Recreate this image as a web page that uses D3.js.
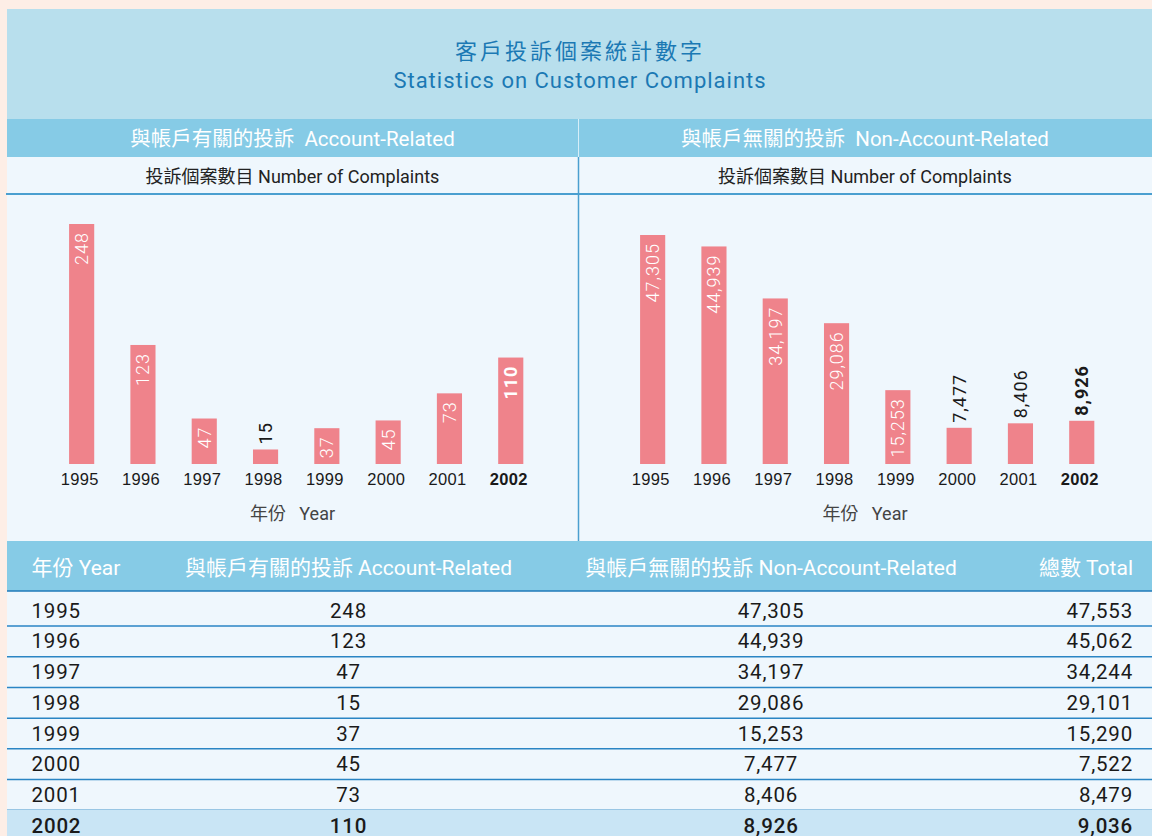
<!DOCTYPE html>
<html>
<head>
<meta charset="utf-8">
<script src="https://cdn.jsdelivr.net/npm/d3@7"></script>
<style>
    body { margin: 0; background: #fdeee6; }
    svg { display: block; font-family: Roboto, "Noto Sans CJK TC", sans-serif; }
</style>
</head>
<body>
<svg class="chart"></svg>
<script>
const years = ["1995", "1996", "1997", "1998", "1999", "2000", "2001", "2002"];
const accountRelated = [248, 123, 47, 15, 37, 45, 73, 110];
const nonAccountRelated = [47305, 44939, 34197, 29086, 15253, 7477, 8406, 8926];
const totals = [47553, 45062, 34244, 29101, 15290, 7522, 8479, 9036];

const titleZh = "客戶投訴個案統計數字";
const titleEn = "Statistics on Customer Complaints";
const panelTitles = ["與帳戶有關的投訴\u00a0\u00a0Account-Related", "與帳戶無關的投訴\u00a0\u00a0Non-Account-Related"];
const panelSubtitle = "投訴個案數目 Number of Complaints";
const axisTitle = "年份\u00a0\u00a0\u00a0Year";
const tableHeaders = ["年份 Year", "與帳戶有關的投訴 Account-Related", "與帳戶無關的投訴 Non-Account-Related", "總數 Total"];

class ComplaintsChart {
    constructor(){
        this.width = 1152;
        this.height = 836;
        this.fmt = d3.format(",");
        this.svg = d3.select(".chart").attr("width", this.width).attr("height", this.height);
        this.lastYear = years[years.length - 1];
        this.drawTitle();
        this.drawPanel(accountRelated, 7, 578, 224, panelTitles[0]);
        this.drawPanel(nonAccountRelated, 578, 1152, 235, panelTitles[1]);
        this.drawDividers();
        this.drawTable();
    }

    drawTitle(){
        this.svg.append("rect").attr("x", 7).attr("y", 9).attr("width", this.width - 7).attr("height", 110).attr("fill", "#b8dfed");
        this.svg.append("text").attr("x", 580).attr("y", 51)
            .attr("text-anchor", "middle").attr("dominant-baseline", "central")
            .attr("fill", "#1b79b4").attr("font-size", 22).attr("letter-spacing", 3)
            .text(titleZh);
        this.svg.append("text").attr("x", 580).attr("y", 80)
            .attr("text-anchor", "middle").attr("dominant-baseline", "central")
            .attr("fill", "#1b79b4").attr("font-size", 22).attr("letter-spacing", 1)
            .text(titleEn);
    }

    drawPanel(values, x0, x1, top, title){
        const g = this.svg.append("g");
        const mid = (x0 + x1) / 2;
        const baseline = 464;

        g.append("rect").attr("x", x0).attr("y", 119).attr("width", x1 - x0).attr("height", 38).attr("fill", "#86cbe6");
        g.append("rect").attr("x", x0).attr("y", 157).attr("width", x1 - x0).attr("height", 384).attr("fill", "#eff7fd");
        g.append("text").attr("x", mid).attr("y", 139)
            .attr("text-anchor", "middle").attr("dominant-baseline", "central")
            .attr("fill", "#fff").attr("font-size", 20.5)
            .text(title);
        g.append("text").attr("x", mid).attr("y", 176)
            .attr("text-anchor", "middle").attr("dominant-baseline", "central")
            .attr("fill", "#222").attr("font-size", 18)
            .text(panelSubtitle);

        const x = d3.scaleBand().domain(years)
            .range([x0 + 44, x0 + 44 + 61.3 * years.length])
            .paddingInner(0.59).paddingOuter(0.295);
        const y = d3.scaleLinear().domain([0, d3.max(values)]).range([baseline, top]);

        const bars = g.selectAll("g.bar").data(values).enter().append("g").attr("class", "bar");
        bars.append("rect")
            .attr("x", (d, i) => x(years[i]))
            .attr("y", (d) => y(d))
            .attr("width", x.bandwidth())
            .attr("height", (d) => baseline - y(d))
            .attr("fill", "#ef838b");

        const last = this.lastYear;
        bars.append("text")
            .attr("font-size", 18)
            .attr("letter-spacing", 1)
            .attr("dy", "0.36em")
            .text((d) => this.fmt(d))
            .each(function(d, i){
                const t = d3.select(this);
                const len = this.getComputedTextLength();
                const cx = x(years[i]) + x.bandwidth() / 2;
                const inside = len + 12 <= baseline - y(d);
                // labels that do not fit go above the bar in dark
                t.attr("text-anchor", inside ? "end" : "start")
                    .attr("fill", inside ? "#fff" : "#1a1a1a")
                    .attr("font-weight", years[i] === last ? 700 : (inside ? 300 : 400))
                    .attr("transform", "translate(" + cx + "," + (inside ? y(d) + 8 : y(d) - 5) + ") rotate(-90)");
            });

        const axis = g.append("g").attr("transform", "translate(-2," + baseline + ")")
            .call(d3.axisBottom(x).tickSize(0).tickPadding(9));
        axis.select(".domain").remove();
        axis.selectAll("text")
            .attr("font-family", null)
            .attr("font-size", 16.5)
            .attr("letter-spacing", 0.3)
            .attr("fill", "#1a1a1a")
            .attr("font-weight", (d) => d === this.lastYear ? 700 : 400);

        g.append("text").attr("x", mid).attr("y", 513)
            .attr("text-anchor", "middle").attr("dominant-baseline", "central")
            .attr("fill", "#444").attr("font-size", 18)
            .text(axisTitle);
    }

    drawDividers(){
        this.svg.append("line").attr("x1", 6).attr("x2", this.width).attr("y1", 194).attr("y2", 194)
            .attr("stroke", "#4a9fd0").attr("stroke-width", 2);
        this.svg.append("line").attr("x1", 578.5).attr("x2", 578.5).attr("y1", 119).attr("y2", 157)
            .attr("stroke", "#d6eef8").attr("stroke-width", 1);
        this.svg.append("line").attr("x1", 578.5).attr("x2", 578.5).attr("y1", 157).attr("y2", 541)
            .attr("stroke", "#4a9fd0").attr("stroke-width", 1.5);
    }

    drawTable(){
        const g = this.svg.append("g");
        const cols = [
            { x: 31.5, anchor: "start", value: (i) => years[i] },
            { x: 348.5, anchor: "middle", value: (i) => this.fmt(accountRelated[i]) },
            { x: 771, anchor: "middle", value: (i) => this.fmt(nonAccountRelated[i]) },
            { x: 1133, anchor: "end", value: (i) => this.fmt(totals[i]) }
        ];
        const rows = d3.scaleBand().domain(years).range([595.3, 841]);

        g.append("rect").attr("x", 7).attr("y", 541).attr("width", this.width - 7).attr("height", 300).attr("fill", "#eff7fd");
        g.append("rect").attr("x", 7).attr("y", 541).attr("width", this.width - 7).attr("height", 50).attr("fill", "#86cbe6");
        g.append("line").attr("x1", 7).attr("x2", this.width).attr("y1", 591).attr("y2", 591)
            .attr("stroke", "#1f7ab8").attr("stroke-width", 1.5);
        g.selectAll("text.head").data(tableHeaders).enter().append("text").attr("class", "head")
            .attr("x", (d, i) => cols[i].x).attr("y", 568)
            .attr("text-anchor", (d, i) => cols[i].anchor).attr("dominant-baseline", "central")
            .attr("fill", "#fff").attr("font-size", 21)
            .text((d) => d);

        const row = g.selectAll("g.row").data(years).enter().append("g").attr("class", "row");
        row.filter((d) => d === this.lastYear).append("rect")
            .attr("x", 7).attr("y", rows(this.lastYear) - 0.5).attr("width", this.width - 7).attr("height", rows.bandwidth() + 1)
            .attr("fill", "#c9e5f5");
        row.filter((d) => d !== this.lastYear).append("line")
            .attr("x1", 7).attr("x2", this.width)
            .attr("y1", (d) => rows(d) + rows.bandwidth()).attr("y2", (d) => rows(d) + rows.bandwidth())
            .attr("stroke", "#2a85c4").attr("stroke-width", 1.5);
        cols.forEach((c) => {
            row.append("text")
                .attr("x", c.x).attr("y", (d) => rows(d) + rows.bandwidth() / 2)
                .attr("text-anchor", c.anchor).attr("dominant-baseline", "central")
                .attr("fill", "#1a1a1a").attr("font-size", 20.5).attr("letter-spacing", 0.8)
                .attr("font-weight", (d) => d === this.lastYear ? 500 : 400)
                .text((d) => c.value(years.indexOf(d)));
        });
    }
}

new ComplaintsChart();
</script>
</body>
</html>
